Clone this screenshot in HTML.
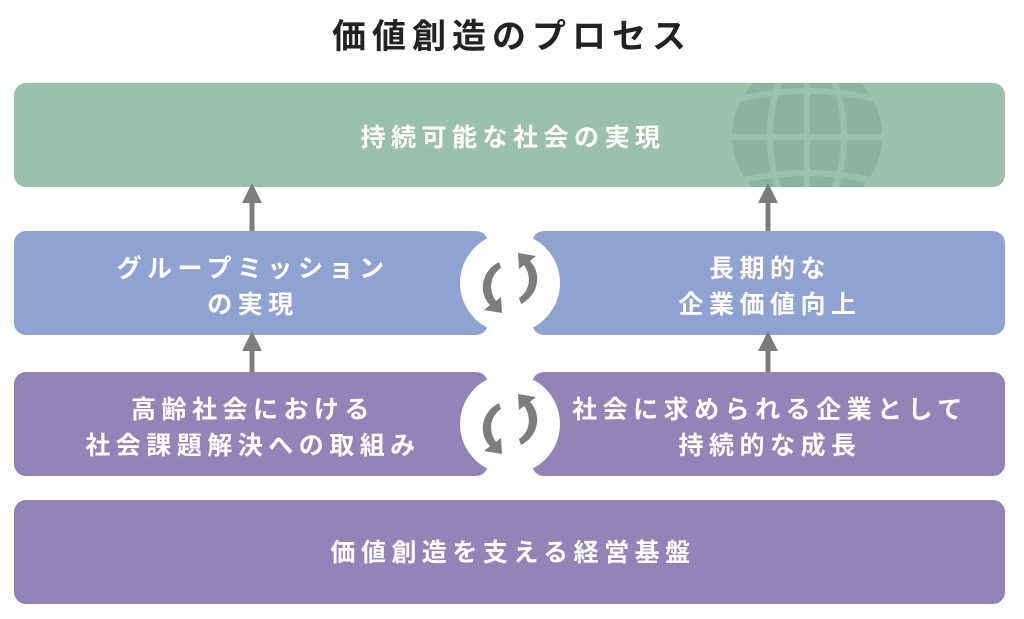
<!DOCTYPE html>
<html><head><meta charset="utf-8"><style>
html,body{margin:0;padding:0;background:#fff;width:1024px;height:619px;overflow:hidden}
svg text{font-family:"Liberation Sans","Noto Sans CJK JP",sans-serif;font-weight:bold;fill:#fff;letter-spacing:5.5px;text-anchor:middle;font-size:25px}
</style></head><body>
<svg width="1024" height="619" viewBox="0 0 1024 619" xmlns="http://www.w3.org/2000/svg">
<defs>
<clipPath id="topc"><rect x="14" y="83" width="991" height="104" rx="12"/></clipPath>
<marker id="ah" viewBox="0 0 10 10" refX="5" refY="5" markerWidth="4" markerHeight="4" orient="auto"><path d="M0,0 L10,5 L0,10 z" fill="#7d7d7d"/></marker>
</defs>
<text x="512" y="48" style="fill:#222;font-size:34px;letter-spacing:6px">価値創造のプロセス</text>

<rect x="14" y="83" width="991" height="104" rx="12" fill="#9cc0ae"/>
<g clip-path="url(#topc)" fill="#8ab4a1">
 <circle cx="807" cy="136" r="75"/>
</g>
<g clip-path="url(#topc)" stroke="#9cc0ae" stroke-width="6" fill="none">
 <line x1="807" y1="50" x2="807" y2="220"/>
 <ellipse cx="807" cy="136" rx="37" ry="80"/>
 <line x1="720" y1="137" x2="900" y2="137"/>
 <path d="M735,100 Q807,82 879,100"/>
 <path d="M735,182 Q807,164 879,182"/>
</g>
<text x="513" y="146">持続可能な社会の実現</text>

<rect x="14" y="231" width="474" height="104" rx="12" fill="#8fa3d2"/>
<rect x="532" y="231" width="473" height="104" rx="12" fill="#8fa3d2"/>
<rect x="14" y="372" width="474" height="104" rx="12" fill="#9284b6"/>
<rect x="532" y="372" width="473" height="104" rx="12" fill="#9284b6"/>
<rect x="14" y="500" width="991" height="104" rx="12" fill="#9284b6"/>

<circle cx="510" cy="283" r="50" fill="#fff"/>
<circle cx="510" cy="424" r="50" fill="#fff"/>

<g fill="#7d7d7d">
 <g id="cyc">
  <path d="M499,262 C481,271 478,293 490,305 L484,310 L502,313 L501,297 L496,301 C488,290 490,275 501,268 Z"/>
  <path d="M521,304 C539,295 542,273 530,261 L536,256 L518,253 L519,269 L524,265 C532,276 530,291 519,298 Z"/>
 </g>
 <use href="#cyc" y="141"/>
</g>

<g stroke="#7d7d7d" stroke-width="5" marker-end="url(#ah)">
 <line x1="252" y1="231" x2="252" y2="193"/>
 <line x1="768" y1="231" x2="768" y2="193"/>
 <line x1="252" y1="372" x2="252" y2="341"/>
 <line x1="768" y1="372" x2="768" y2="341"/>
</g>

<text x="253" y="277">グループミッション</text>
<text x="253" y="313">の実現</text>
<text x="770" y="277">長期的な</text>
<text x="770" y="313">企業価値向上</text>
<text x="253" y="418">高齢社会における</text>
<text x="253" y="454">社会課題解決への取組み</text>
<text x="770" y="418">社会に求められる企業として</text>
<text x="770" y="454">持続的な成長</text>
<text x="513" y="561">価値創造を支える経営基盤</text>
</svg>
</body></html>
